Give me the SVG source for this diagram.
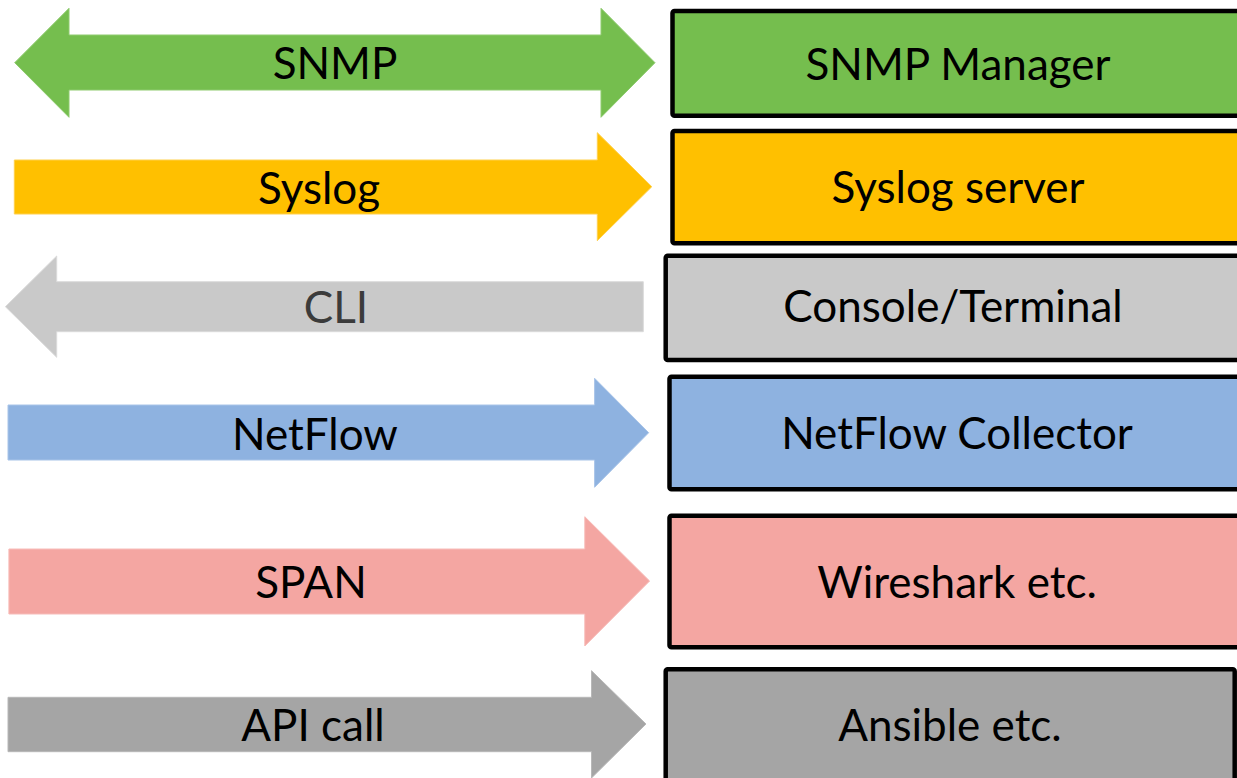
<svg xmlns="http://www.w3.org/2000/svg" width="1237" height="778" viewBox="0 0 1237 778">
<style>
.lbl{font-family:Lato,"Liberation Sans",sans-serif;font-size:44px;fill:#000;text-anchor:middle}
.box{stroke:#000;stroke-width:4.5}
.arr{stroke-width:1}
</style>
<rect width="1237" height="778" fill="#fff"/>
<g id="connectors">
<g id="arrow-snmp">
<polygon class="arr" fill="#75BE4E" stroke="#8fcb6f" points="14.7,62.7 69,8.3 69,35 601,35 601,8.3 655,62.7 601,117.3 601,90 69,90 69,117.3"/>
<text class="lbl" x="335" y="79">SNMP</text>
</g>
<g id="arrow-syslog">
<polygon class="arr" fill="#FFC000" stroke="#ffd04d" points="14.3,160 597.3,160 597.3,132.7 651.8,186.7 597.3,240.7 597.3,214 14.3,214"/>
<text class="lbl" x="319" y="204">Syslog</text>
</g>
<g id="arrow-cli">
<polygon class="arr" fill="#C9C9C9" stroke="#dadada" points="5.4,306.7 56.7,256 56.7,281.7 643.3,281.7 643.3,331.7 56.7,331.7 56.7,357.3"/>
<text class="lbl" x="336" y="323" style="fill:#3b3b3b">CLI</text>
</g>
<g id="arrow-netflow">
<polygon class="arr" fill="#8EB2E0" stroke="#a8c4e8" points="8,405 594.6,405 594.6,378.3 648.7,432.7 594.6,487.3 594.6,460 8,460"/>
<text class="lbl" x="315" y="449.5">NetFlow</text>
</g>
<g id="arrow-span">
<polygon class="arr" fill="#F4A6A2" stroke="#f7bcb9" points="8.9,549 584.8,549 584.8,516.7 649.6,581 584.8,646 584.8,614 8.9,614"/>
<text class="lbl" x="311" y="598">SPAN</text>
</g>
<g id="arrow-api">
<polygon class="arr" fill="#A5A5A5" stroke="#b8b8b8" points="8,697.3 591.5,697.3 591.5,670.7 646,724 591.5,778 591.5,751.7 8,751.7"/>
<text class="lbl" x="313" y="740.5">API call</text>
</g>
</g>
<g id="node-snmp-manager">
<rect class="box" x="672.5" y="11" width="572" height="104.7" fill="#75BE4E" rx="2"/>
<text class="lbl" x="958" y="79.5">SNMP Manager</text>
</g>
<g id="node-syslog-server">
<rect class="box" x="672.5" y="131" width="572" height="112.3" fill="#FFC000" rx="2"/>
<text class="lbl" x="958" y="202.5">Syslog server</text>
</g>
<g id="node-console">
<rect class="box" x="665.7" y="255.7" width="576" height="104.3" fill="#C9C9C9" rx="2"/>
<text class="lbl" x="953" y="322">Console/Terminal</text>
</g>
<g id="node-netflow-collector">
<rect class="box" x="669.5" y="376.7" width="576" height="112.6" fill="#8EB2E0" rx="2"/>
<text class="lbl" x="957" y="448.5">NetFlow Collector</text>
</g>
<g id="node-wireshark">
<rect class="box" x="669.5" y="515.7" width="576" height="131.6" fill="#F4A6A2" rx="2"/>
<text class="lbl" x="957" y="597.5">Wireshark etc.</text>
</g>
<g id="node-ansible">
<rect class="box" x="665.7" y="669.3" width="569" height="112" fill="#A5A5A5" rx="2"/>
<text class="lbl" x="950" y="740.5">Ansible etc.</text>
</g>
</svg>
